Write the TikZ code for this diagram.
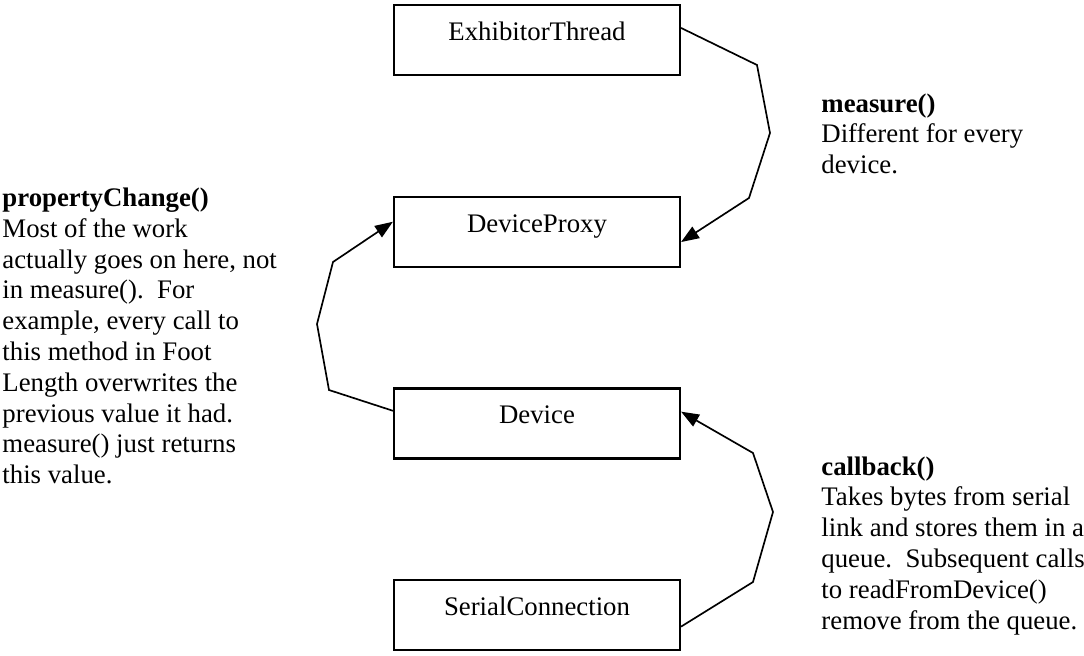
\documentclass[tikz,border=0pt]{standalone}
\usepackage{fontspec}
\setmainfont{Liberation Serif}
\usetikzlibrary{arrows.meta}

\begin{document}
\begin{tikzpicture}[x=0.448pt,y=-0.448pt,
  font=\fontsize{12}{13.8}\selectfont,
  classbox/.style={draw,line width=1.1pt,minimum width=128pt,inner xsep=0pt,inner ysep=0pt,
    text height=15.65pt,text depth=15.65pt},
  note/.style={anchor=north west,align=left,inner sep=0pt},
  call/.style={draw,line width=0.75pt,-{Triangle[length=8pt,width=6pt]}}]
\useasboundingbox (0,0) rectangle (1084,656);
% Classes
\node[classbox] (et) at (537,40) {ExhibitorThread};
\node[classbox] (proxy) at (537,232) {DeviceProxy};
\node[classbox] (device) at (537,423.5) {Device};
\node[classbox] (serial) at (537,615) {SerialConnection};
% Calls between them
\draw[call] ([yshift=5.4pt]et.east) -- (757,65) -- (770,133) -- (749,198) -- ([yshift=-4.5pt]proxy.east);
\draw[call] ([yshift=5.7pt]device.west) -- (329,390) -- (317,324) -- (333,262) -- ([yshift=4.6pt]proxy.west);
\draw[call] ([yshift=-5.2pt]serial.east) -- (753,582) -- (773,512) -- (753,453) -- ([yshift=5.3pt]device.east);
% Notes
\node[note] (pcnote) at (2,187.5) {\textbf{propertyChange()}\\
  Most of the work\\
  actually goes on here, not\\
  in measure().\ \ For\\
  example, every call to\\
  this method in Foot\\
  Length overwrites the\\
  previous value it had.\\
  measure() just returns\\
  this value.};
\node[note] (msnote) at (821,93) {\textbf{measure()}\\
  Different for every\\
  device.};
\node[note] (cbnote) at (821,456) {\textbf{callback()}\\
  Takes bytes from serial\\
  link and stores them in a\\
  queue.\ \ Subsequent calls\\
  to readFromDevice()\\
  remove from the queue.};
\end{tikzpicture}
\end{document}
